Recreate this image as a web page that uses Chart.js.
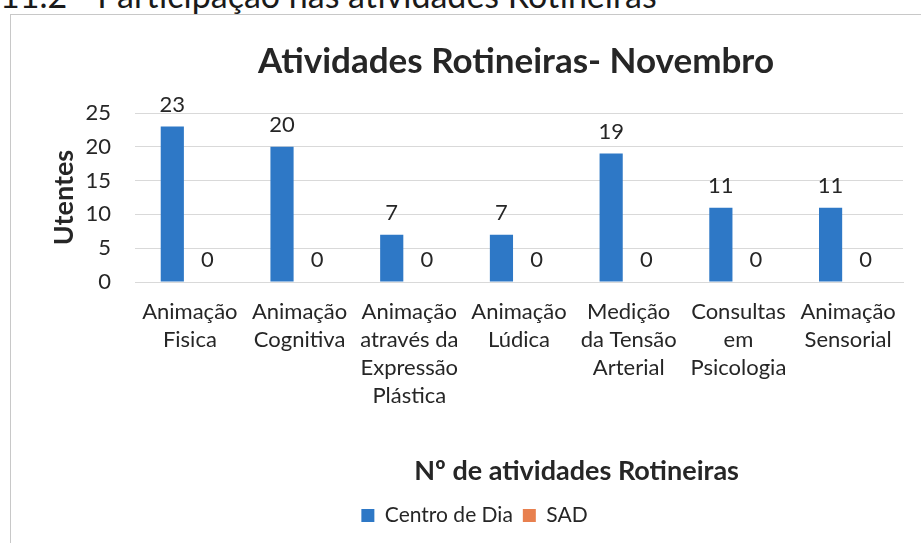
<!DOCTYPE html>
<html>
<head>
<meta charset="utf-8">
<script src="https://cdn.jsdelivr.net/npm/chart.js@4/dist/chart.umd.min.js"></script>
<style>
  body { margin: 0; width: 921px; height: 543px; overflow: hidden; background: #fff; position: relative; font-family: Lato, sans-serif; }
  #cabecalho { position: absolute; left: 0; top: -25px; font-size: 34px; line-height: 40px; color: #1a1a1a; white-space: nowrap; }
  #moldura { position: absolute; left: 10px; top: 14px; width: 930px; height: 560px; border: 1px solid #c8c8c8; background: #fff; }
  #moldura canvas { position: absolute; left: 0; top: 0; }
</style>
</head>
<body>
<div id="cabecalho">11.2 - Participação nas atividades Rotineiras</div>
<div id="moldura"><canvas id="grafico" width="928" height="529"></canvas></div>
<script>
  const categorias = [
    ['Animação', 'Fisica'],
    ['Animação', 'Cognitiva'],
    ['Animação', 'através da', 'Expressão', 'Plástica'],
    ['Animação', 'Lúdica'],
    ['Medição', 'da Tensão', 'Arterial'],
    ['Consultas', 'em', 'Psicologia'],
    ['Animação', 'Sensorial']
  ];
  const centroDeDia = [23, 20, 7, 7, 19, 11, 11];
  const sad = [0, 0, 0, 0, 0, 0, 0];
  const ticksY = [0, 5, 10, 15, 20, 25];

  const corTexto = '#262626';
  const fonte = 'Lato, sans-serif';

  // rótulos de valor por cima das barras + títulos desenhados à mão
  const extras = {
    id: 'extras',
    afterDatasetsDraw(chart) {
      const ctx = chart.ctx;
      ctx.save();
      ctx.fillStyle = corTexto;
      ctx.font = '22px ' + fonte;
      ctx.textAlign = 'center';
      ctx.textBaseline = 'bottom';
      chart.data.datasets.forEach((ds, i) => {
        chart.getDatasetMeta(i).data.forEach((bar, j) => {
          ctx.fillText(ds.data[j], bar.x, bar.y - 11);
        });
      });
      const a = chart.chartArea;
      ctx.textBaseline = 'middle';
      ctx.font = 'bold 35px ' + fonte;
      ctx.fillText('Atividades Rotineiras- Novembro', (a.left + a.right) / 2 - 3, a.top - 51);
      ctx.font = 'bold 27px ' + fonte;
      ctx.fillText('Nº de atividades Rotineiras', a.left + (a.right - a.left) * 0.575, a.bottom + 189);
      ctx.restore();
    }
  };

  new Chart(document.getElementById('grafico'), {
    type: 'bar',
    data: {
      labels: categorias,
      datasets: [
        { label: 'Centro de Dia', data: centroDeDia, backgroundColor: '#2E78C6' },
        { label: 'SAD', data: sad, backgroundColor: '#E8804F' }
      ]
    },
    options: {
      responsive: false,
      animation: false,
      layout: { padding: { top: 98, left: 35, right: 36, bottom: 8 } },
      categoryPercentage: 0.64,
      barPercentage: 0.66,
      scales: {
        x: {
          grid: { display: false, drawTicks: false },
          border: { color: '#d9d9d9' },
          ticks: { color: corTexto, font: { family: fonte, size: 22, lineHeight: 1.27 }, padding: 16, maxRotation: 0, autoSkip: false },
          afterFit(s) { s.height = 213; }
        },
        y: {
          min: 0,
          max: 25,
          afterBuildTicks(s) { s.ticks = ticksY.map(v => ({ value: v })); },
          grid: { color: '#d9d9d9', drawTicks: false },
          border: { display: false },
          ticks: { color: corTexto, font: { family: fonte, size: 22 }, padding: 24 },
          title: { display: true, text: 'Utentes', color: corTexto, font: { family: fonte, size: 27, weight: 'bold' }, padding: { top: 2, bottom: 0 } },
          afterFit(s) { s.width = 89; }
        }
      },
      plugins: {
        legend: {
          position: 'bottom',
          labels: { color: corTexto, font: { family: fonte, size: 21 }, boxWidth: 13, boxHeight: 13, padding: 10 }
        },
        tooltip: { enabled: false }
      }
    },
    plugins: [extras]
  });
</script>
</body>
</html>
